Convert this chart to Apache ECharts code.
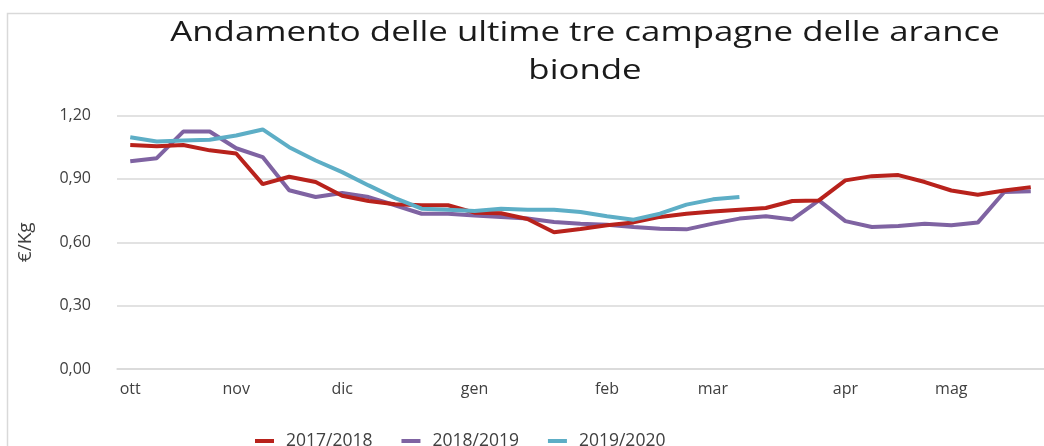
<!DOCTYPE html>
<html>
<head>
<meta charset="utf-8">
<script src="https://cdn.jsdelivr.net/npm/echarts@6/dist/echarts.min.js"></script>
<style>
html,body{margin:0;padding:0;background:#fff;}
#c{width:1044px;height:446px;}
</style>
</head>
<body>
<div id="c"></div>
<script>
const categories = ['ott','','','','nov','','','','dic','','','','','gen','','','','','feb','','','','mar','','','','','apr','','','','mag','','',''];
const s2017 = [1.06,1.055,1.06,1.035,1.02,0.875,0.91,0.885,0.82,0.795,0.78,0.775,0.775,0.74,0.737,0.71,0.647,0.663,0.68,0.694,0.72,0.735,0.746,0.754,0.762,0.795,0.798,0.893,0.913,0.918,0.885,0.845,0.825,0.845,0.861];
const s2018 = [0.983,0.998,1.124,1.124,1.045,1.003,0.846,0.814,0.833,0.814,0.775,0.735,0.735,0.727,0.72,0.712,0.696,0.688,0.683,0.672,0.664,0.661,0.688,0.712,0.723,0.708,0.798,0.70,0.672,0.677,0.688,0.68,0.693,0.838,0.842];
const s2019 = [1.097,1.077,1.082,1.085,1.105,1.134,1.05,0.987,0.932,0.869,0.809,0.759,0.754,0.748,0.759,0.754,0.754,0.743,0.723,0.707,0.735,0.778,0.803,0.814];
const seriesNames = ['2017/2018','2018/2019','2019/2020'];
const yTicks = [0,0.3,0.6,0.9,1.2];
const titleText = 'Andamento delle ultime tre campagne delle arance\nbionde';

const FONT = 'Open Sans';
const chart = echarts.init(document.getElementById('c'));
const colors = ['#B8221C','#7F63A2','#5DAEC6'];
chart.setOption({
  animation:false,
  color: colors,
  textStyle:{fontFamily:FONT},
  graphic:[
    {type:'rect',left:5,top:11,shape:{width:1200,height:600},style:{fill:'none',stroke:'#d9d9d9',lineWidth:1.5},silent:true,z:-10},
    {type:'text',x:585,y:14,scaleX:1.29,silent:true,z:10,
      style:{text:titleText,textAlign:'center',textVerticalAlign:'top',lineHeight:38,
        font:'27px "Open Sans"',fill:'#1a1a1a'}}
  ],
  legend:{
    data:seriesNames, top:427, left:250,
    itemWidth:19, itemHeight:4, itemGap:29,
    icon:'rect',
    textStyle:{fontFamily:FONT,fontSize:17.5,color:'#404040',padding:[0,0,0,7]}
  },
  grid:{left:117, top:115.5, height:253.5, width:934.5},
  xAxis:{
    type:'category', data:categories, boundaryGap:true,
    axisTick:{show:false},
    axisLine:{lineStyle:{color:'#d9d9d9',width:1.5}},
    axisLabel:{interval:0, color:'#404040', fontSize:16, fontFamily:FONT, margin:12}
  },
  yAxis:{
    type:'value', min:yTicks[0], max:yTicks[yTicks.length-1], interval:0.3,
    name:'€/Kg', nameLocation:'middle', nameGap:82, nameRotate:90,
    nameTextStyle:{fontFamily:FONT,fontSize:19,color:'#404040'},
    axisLine:{show:false}, axisTick:{show:false},
    axisLabel:{color:'#404040',fontSize:16,fontFamily:FONT,margin:26,
      formatter:v=>v.toFixed(2).replace('.',',')},
    splitLine:{lineStyle:{color:'#d9d9d9',width:1.5}}
  },
  series:[
    {name:seriesNames[0],type:'line',data:s2017,showSymbol:false,lineStyle:{width:4},z:3},
    {name:seriesNames[1],type:'line',data:s2018,showSymbol:false,lineStyle:{width:4},z:2},
    {name:seriesNames[2],type:'line',data:s2019,showSymbol:false,lineStyle:{width:4},z:4}
  ]
});
</script>
</body>
</html>
